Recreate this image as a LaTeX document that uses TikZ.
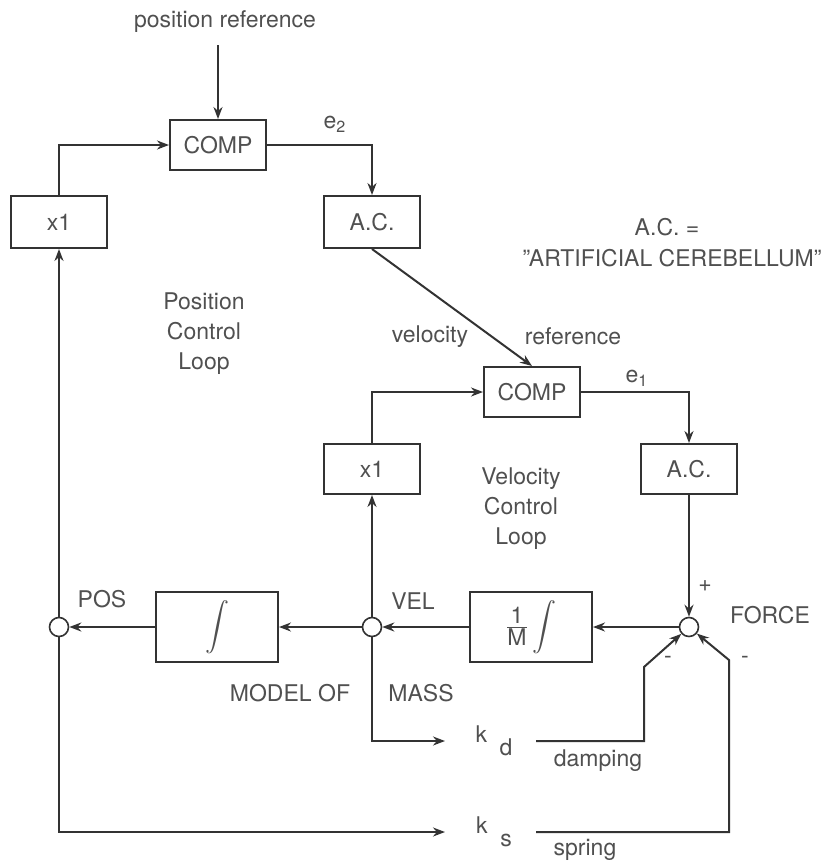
\documentclass[tikz,border=0pt]{standalone}
\usepackage{amsmath}
\usepackage{fontspec}
\setmainfont{TeX Gyre Heros}
\usepackage{tikz}
\usetikzlibrary{shapes,arrows,arrows.meta,positioning,calc}

\definecolor{ink}{HTML}{333333}
\definecolor{txt}{HTML}{505050}
\newcommand{\lblfont}{\fontsize{11.5}{15}\selectfont}

\begin{document}
\begin{tikzpicture}[
    x=0.5pt, y=-0.5pt,
    box/.style={rectangle, draw=ink, line width=1pt, minimum width=48pt, minimum height=25pt, font=\lblfont, text=txt},
    bigbox/.style={box, minimum width=61pt, minimum height=35pt},
    sum/.style={circle, draw=ink, line width=0.8pt, minimum size=9.5pt, inner sep=0pt, fill=white},
    lbl/.style={font=\lblfont, text=txt, inner sep=1pt},
    arrow/.style={->,>={Stealth[length=6pt,width=4.5pt]}, draw=ink, line width=1pt},
    wire/.style={draw=ink, line width=1pt}
]
    \useasboundingbox (0,0) rectangle (828,863);

    % position loop
    \node[lbl] (posref) at (225,22) {position reference};
    \coordinate (refin) at (218,45);
    \node[box] (comp1) at (218,145) {COMP};
    \node[box, minimum height=26pt] (x1a) at (59,222) {x1};
    \node[box, minimum height=26pt] (ac1) at (372,222) {A.C.};
    \node[lbl] (e2) at (335,124) {e\textsubscript{2}};
    \node[lbl, align=center] (posloop) at (204,334) {Position\\Control\\Loop};

    \node[lbl] (acdef) at (667,227) {A.C. =};
    \node[lbl] (acname) at (672,258) {\symbol{34}ARTIFICIAL CEREBELLUM\symbol{34}};

    % velocity loop
    \node[lbl] (velword) at (430,337) {velocity};
    \node[lbl] (refword) at (573,336) {reference};
    \node[box] (comp2) at (532,392) {COMP};
    \node[box] (x1b) at (372,469) {x1};
    \node[box] (ac2) at (689,469) {A.C.};
    \node[lbl] (e1) at (637,378) {e\textsubscript{1}};
    \node[lbl, align=center] (velloop) at (521,509) {Velocity\\Control\\Loop};

    % model of mass
    \node[sum] (pos) at (59,627) {};
    \node[bigbox] (integ) at (217,627) {$\displaystyle\int$};
    \node[sum] (vel) at (372,627) {};
    \node[bigbox] (mint) at (531,627) {$\frac{\mbox{1}}{\mbox{M}}\displaystyle\int$};
    \node[sum] (force) at (689,627) {};

    \node[lbl] (poslbl) at (102,599) {POS};
    \node[lbl] (vellbl) at (413,601) {VEL};
    \node[lbl] (forcelbl) at (770,615) {FORCE};
    \node[lbl] (plus) at (705,586) {+};
    \node[lbl] (minus1) at (668,660) {-};
    \node[lbl] (minus2) at (745,660) {-};
    \node[lbl] (model) at (290,693) {MODEL OF};
    \node[lbl] (mass) at (421,693) {MASS};

    % feedback gains
    \coordinate (kdin) at (445,741);
    \node[lbl] (kd) at (494,741) {k\hspace{0.55em}\raisebox{-1.1ex}{d}};
    \coordinate (kdout) at (536,741);
    \coordinate (kdbend) at (644,667);
    \node[lbl] (damp) at (598,761) {damping};

    \coordinate (ksin) at (445,832);
    \coordinate (ks0) at (59,832);
    \node[lbl] (ks) at (494,832) {k\hspace{0.55em}\raisebox{-1.1ex}{s}};
    \coordinate (ksout) at (536,832);
    \coordinate (ksbend) at (729,660);
    \node[lbl] (spring) at (585,850) {spring};

    \draw[arrow] (refin) -- (comp1);
    \draw[arrow] (x1a) |- (comp1);
    \draw[arrow] (comp1) -| (ac1);
    \draw[arrow] (ac1.south) -- (comp2.north);
    \draw[arrow] (x1b) |- (comp2);
    \draw[arrow] (comp2) -| (ac2);
    \draw[arrow] (ac2) -- (force);

    \draw[arrow] (force) -- (mint);
    \draw[arrow] (mint) -- (vel);
    \draw[arrow] (vel) -- (integ);
    \draw[arrow] (integ) -- (pos);
    \draw[arrow] (pos) -- (x1a);
    \draw[arrow] (vel) -- (x1b);

    \draw[arrow] (vel) |- (kdin);
    \draw[arrow] (kdout) -| (kdbend) -- (force);
    \draw[arrow] (pos) -- (ks0) -- (ksin);
    \draw[arrow] (ksout) -| (ksbend) -- (force);
\end{tikzpicture}
\end{document}
